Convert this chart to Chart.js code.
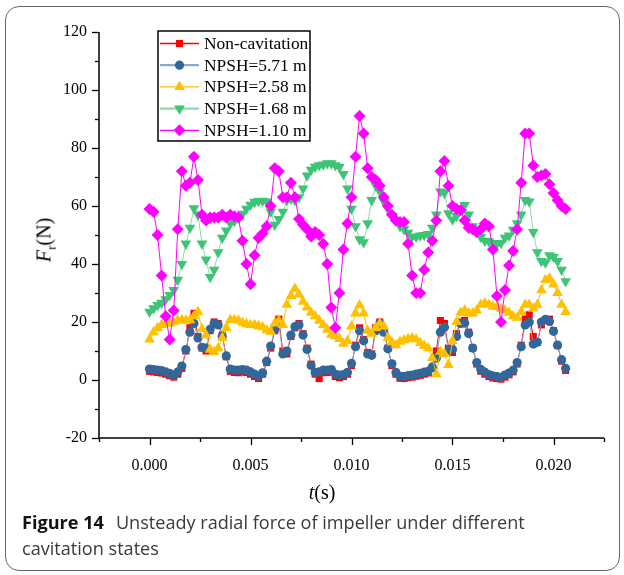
<!DOCTYPE html>
<html><head><meta charset="utf-8">
<script src="https://cdn.jsdelivr.net/npm/chart.js@4"></script>
<style>
html,body{margin:0;padding:0;background:#fff;}
#wrap{position:relative;width:624px;height:575px;overflow:hidden;background:#fff;}
#frame{position:absolute;left:5px;top:6px;width:615px;height:565px;border:1.5px solid #666;border-radius:14px;box-sizing:border-box;}
canvas{position:absolute;left:0;top:0;}
.ax{position:absolute;font-family:"Liberation Serif","Times New Roman",serif;font-size:20px;color:#000;white-space:nowrap;}
#ylab{left:46px;top:240px;transform:translate(-50%,-50%) rotate(-90deg);}
#ylab sub{font-size:13px;}
#xlab{left:322px;top:492px;transform:translate(-50%,-50%);}
#cap{position:absolute;left:22px;top:509px;width:598px;font-family:"Open Sans","Noto Sans",sans-serif;font-size:18.1px;line-height:26px;color:#3a3a3a;white-space:nowrap;}
#cap b{color:#111;margin-right:12px;}
</style></head><body>
<div id="wrap">
<div id="frame"></div>
<canvas id="c" width="624" height="575"></canvas>
<div class="ax" id="ylab"><i>F</i><sub>r</sub>(N)</div>
<div class="ax" id="xlab"><i>t</i>(s)</div>
<div id="cap"><b>Figure 14</b>Unsteady radial force of impeller under different<br>cavitation states</div>
</div>
<script>
const seriesNames = ['Non-cavitation','NPSH=5.71 m','NPSH=2.58 m','NPSH=1.68 m','NPSH=1.10 m'];
const timeS = [0,0.0002,0.0004,0.0006,0.0008,0.0010,0.0012,0.0014,0.0016,0.0018,
0.0020,0.0022,0.0024,0.0026,0.0028,0.0030,0.0032,0.0034,0.0036,0.0038,
0.0040,0.0042,0.0044,0.0046,0.0048,0.0050,0.0052,0.0054,0.0056,0.0058,
0.0060,0.0062,0.0064,0.0066,0.0068,0.0070,0.0072,0.0074,0.0076,0.0078,
0.0080,0.0082,0.0084,0.0086,0.0088,0.0090,0.0092,0.0094,0.0096,0.0098,
0.0100,0.0102,0.0104,0.0106,0.0108,0.0110,0.0112,0.0114,0.0116,0.0118,
0.0120,0.0122,0.0124,0.0126,0.0128,0.0130,0.0132,0.0134,0.0136,0.0138,
0.0140,0.0142,0.0144,0.0146,0.0148,0.0150,0.0152,0.0154,0.0156,0.0158,
0.0160,0.0162,0.0164,0.0166,0.0168,0.0170,0.0172,0.0174,0.0176,0.0178,
0.0180,0.0182,0.0184,0.0186,0.0188,0.0190,0.0192,0.0194,0.0196,0.0198,
0.0200,0.0202,0.0204,0.0206];
const nonCav = [3.0,2.8,2.6,2.4,2.0,1.5,1.0,2.0,4.0,10,
18,23,15,11,10,17,20,19.5,15.5,8,
3,2.6,2.5,2.8,2.6,2,1.2,0.5,2,6,
11,17,21,10,9,15,18,19.5,16,11,
5.5,2,0.5,2.5,2.6,3,1.2,0.8,1.2,2,
5,12,18,14,9.5,9,18,20,17,11,
5,2,0.6,0.5,0.8,1,1.3,1.6,2,2.4,
4,10,20.5,19.5,11,9.5,16,20,20.5,16.5,
11,5.5,3,2,1.2,0.7,0.5,0.3,1,1.8,
2.8,5.5,12,21,22.5,15,13,19,20.5,21,
17,12,6.5,3.3];
const npsh571 = [3.8,3.6,3.4,3.2,2.8,2.3,1.5,2.8,4.8,10.5,
16.5,19.5,14.5,11.3,11,17.5,19.5,19,15,8.3,
3.8,3.4,3.4,3.6,3.4,2.8,2,1.3,2.5,6.5,
11.7,17.5,19.5,9,10,15.5,18.4,19,15.5,10.5,
5,2.6,2.8,3.4,3.4,3.6,2,1.7,1.9,2.6,
5.7,11.5,17,13.5,9,8.5,17,19.5,16.5,10.8,
5.6,2.6,1.3,1.2,1.5,1.7,2,2.3,2.7,3,
4.5,7.5,16.5,18.2,10.3,10.5,15,19.5,19.6,16,
11,6,3.7,2.7,1.9,1.4,1.2,0.9,1.7,2.4,
3.4,6,11.5,19,20,12.4,13,20,20.9,20.2,
16.8,12,7,4];
const npsh258 = [14,16.5,18,19,19.4,19.5,20,20.5,20.7,20.5,
20.6,22,23.5,17.5,15.5,10.5,9.7,11,14.5,18,
20.7,20.7,20.5,19.8,19.3,19,19,18.6,18.2,17.2,
16.7,19.5,20.5,19,26,29,31.5,29.5,27,25,
23.2,22,20.5,19,17.4,15.6,15,14.2,12.5,13.5,
18.5,23,25.8,23,17,16,18,19.5,18.5,14.6,
13,12,13.2,13.7,14.2,14.4,14,12.8,11.8,11,
7.5,2,9.8,9,5.2,13.5,20,23.2,24,23,
23,24,26,26.4,26,25.4,25.2,24.6,24.1,23.2,
22,21.5,23.5,26,26,24.7,26,31,34.5,35,
33,30,26,23.5];
const npsh168 = [23.5,24.7,25.8,26.6,27.8,29.3,31,34.5,40,47,
52.5,59.2,57,47,41.5,35.5,38,44,49,51.5,
54,54.8,56,57.3,59,60.4,61.4,61.7,61.8,61.5,
58,53.5,55.5,58,62,62.5,62,63,66,70.5,
72.5,73.5,74,74.3,74.7,74.7,74,73.5,71,66,
59,53,48.5,47.5,54,62,67,65,61.5,59,
56.5,55,53,52,50.7,49.4,49.4,49.8,50,50.3,
52.5,57,65,64.5,57.5,55.3,56.5,59,60.3,57,
53,51,49.3,48,47.8,47.2,47,47.2,49,49.8,
51.8,54,57,62,61.5,51,44,41,40.5,43,
42.5,41,38,34];
const npsh110 = [59,58,50,36,22,14,24,52,72,67,
68,77,69,57,55,56,56,56,57,56,
57,56.5,56,48,40,33,43,49,50.5,53,
60,73,72,63,63,68,63,55.5,53.5,52,
49.5,51,50,47,40,25,18,30,45,54,
63,77,91,85,73,70,69,67,63,60,
57,55,54.5,54.5,47,36,30,30,38,44,
48,55,72,75.5,67,60,59,58.5,55,52.5,
52,51,52,54,53,45,29,20,31,39.5,
44.5,52,68,85,85,74,70,70.5,71,67.5,
64.5,62,60,59];
const yTickLabels = ['-20','0','20','40','60','80','100','120'];
const xTickLabels = ['0.000','0.005','0.010','0.015','0.020'];

const styles = [
  {line:'#ff0000', fill:'#ff0000', shape:'rect', r:5, rot:0},
  {line:'#8eaacb', fill:'#336699', shape:'circle', r:4.6, rot:0},
  {line:'#ffc000', fill:'#ffc000', shape:'triangle', r:6.2, rot:0},
  {line:'#8fd9ab', fill:'#3dc476', shape:'triangle', r:6.2, rot:180},
  {line:'#ff00ff', fill:'#ff00ff', shape:'rectRot', r:6, rot:0}
];
const allSeries = [nonCav, npsh571, npsh258, npsh168, npsh110];
const datasets = allSeries.map((vals, k) => ({
  label: seriesNames[k],
  data: vals.map((v, i) => ({x: timeS[i], y: v})),
  borderColor: styles[k].line,
  backgroundColor: styles[k].fill,
  pointBackgroundColor: styles[k].fill,
  pointBorderColor: styles[k].fill,
  pointBorderWidth: 0,
  pointStyle: styles[k].shape,
  pointRadius: styles[k].r,
  pointRotation: styles[k].rot,
  borderWidth: 1,
  tension: 0,
  order: 5 - k
}));

function drawMarker(ctx, st, x, y) {
  ctx.save();
  ctx.fillStyle = st.fill;
  ctx.beginPath();
  const r = st.r;
  if (st.shape === 'rect') { const s = r * Math.SQRT1_2; ctx.rect(x - s, y - s, 2 * s, 2 * s); }
  else if (st.shape === 'circle') { ctx.arc(x, y, r, 0, Math.PI * 2); }
  else if (st.shape === 'triangle') {
    let a = st.rot ? Math.PI : 0;
    for (let i = 0; i < 3; i++) { const px = x + Math.sin(a) * r, py = y - Math.cos(a) * r; i ? ctx.lineTo(px, py) : ctx.moveTo(px, py); a += 2 * Math.PI / 3; }
    ctx.closePath();
  } else { ctx.moveTo(x, y - r); ctx.lineTo(x + r, y); ctx.lineTo(x, y + r); ctx.lineTo(x - r, y); ctx.closePath(); }
  ctx.fill();
  ctx.restore();
}

const axesPlugin = {
  id: 'axesPlugin',
  afterDraw(chart) {
    const {ctx, chartArea: a, scales: {x, y}} = chart;
    ctx.save();
    ctx.strokeStyle = '#000';
    ctx.lineWidth = 1.5;
    ctx.beginPath();
    ctx.moveTo(a.left, a.top); ctx.lineTo(a.left, a.bottom); ctx.lineTo(a.right, a.bottom);
    ctx.stroke();
    ctx.lineWidth = 1.3;
    x.ticks.forEach(tk => {
      const px = Math.round(x.getPixelForValue(tk.value)) + 0.5;
      const major = tk.label !== '';
      ctx.beginPath(); ctx.moveTo(px, a.bottom); ctx.lineTo(px, a.bottom + (major ? 7 : 4)); ctx.stroke();
    });
    y.ticks.forEach(tk => {
      const py = Math.round(y.getPixelForValue(tk.value)) + 0.5;
      const major = tk.label !== '';
      ctx.beginPath(); ctx.moveTo(a.left, py); ctx.lineTo(a.left - (major ? 7 : 4), py); ctx.stroke();
    });
    // legend
    const L = {x: 158, y: 31, w: 152, h: 110};
    ctx.fillStyle = '#fff';
    ctx.fillRect(L.x, L.y, L.w, L.h);
    ctx.lineWidth = 1.5;
    ctx.strokeStyle = '#000';
    ctx.strokeRect(L.x, L.y, L.w, L.h);
    ctx.font = '17.4px "Liberation Serif", "Times New Roman", serif';
    ctx.textBaseline = 'middle';
    ctx.textAlign = 'left';
    seriesNames.forEach((nm, k) => {
      const ry = L.y + 12.5 + k * 21.7;
      ctx.strokeStyle = styles[k].line;
      ctx.lineWidth = k === 1 || k === 3 ? 2.2 : 1.3;
      ctx.beginPath(); ctx.moveTo(L.x + 2, ry); ctx.lineTo(L.x + 41, ry); ctx.stroke();
      drawMarker(ctx, styles[k], L.x + 21.5, ry);
      ctx.fillStyle = '#000';
      ctx.fillText(nm, L.x + 46, ry + 1);
    });
    ctx.restore();
  }
};

new Chart(document.getElementById('c'), {
  type: 'line',
  data: {datasets},
  options: {
    responsive: false,
    animation: false,
    layout: {padding: {top: 32, right: 20, left: 0, bottom: 0}},
    plugins: {legend: {display: false}, tooltip: {enabled: false}},
    scales: {
      x: {
        type: 'linear', min: -0.0025, max: 0.0225,
        grid: {display: false, drawTicks: false}, border: {display: false},
        ticks: {
          stepSize: 0.0025, autoSkip: false, maxRotation: 0, padding: 18, color: '#000',
          font: {family: '"Liberation Serif", "Times New Roman", serif', size: 16},
          callback: (v) => { const m = v / 0.005; if (Math.abs(m - Math.round(m)) < 1e-6 && Math.round(m) >= 0 && Math.round(m) < xTickLabels.length) return xTickLabels[Math.round(m)]; return ''; }
        },
        afterFit: (s) => { s.height = 137; }
      },
      y: {
        min: -20, max: 120,
        grid: {display: false, drawTicks: false}, border: {display: false},
        ticks: {
          stepSize: 10, autoSkip: false, padding: 12, color: '#000',
          font: {family: '"Liberation Serif", "Times New Roman", serif', size: 16},
          callback: (v) => { const m = (v + 20) / 20; if (Math.abs(m - Math.round(m)) < 1e-6) return yTickLabels[Math.round(m)]; return ''; }
        },
        afterFit: (s) => { s.width = 99; }
      }
    }
  },
  plugins: [axesPlugin]
});
</script>
</body></html>
